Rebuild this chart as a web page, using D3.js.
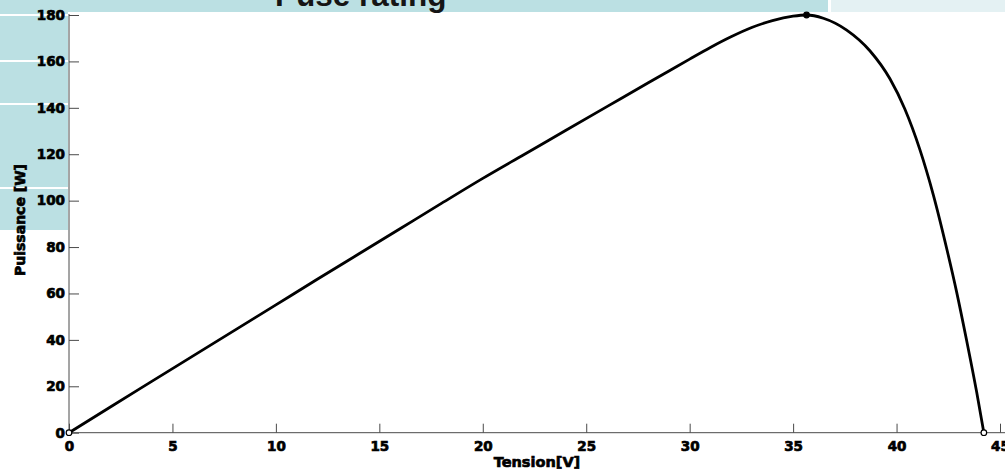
<!DOCTYPE html>
<html>
<head>
<meta charset="utf-8">
<script src="https://cdn.jsdelivr.net/npm/d3@7"></script>
<style>
  body { margin: 0; background: #fff; }
  svg { display: block; }
  .tick text, .label { font-family: "DejaVu Sans", sans-serif; font-weight: bold; fill: #000; stroke: #000; stroke-width: 0.7px; }
  .tick text { font-size: 13.5px; }
  .axis path, .axis line { stroke: #4a4a4a; }
</style>
</head>
<body>
<script>
// P-V curve of the panel
var voltage = [0, 2, 4, 6, 8, 10, 12, 14, 16, 18, 20, 22, 24, 26, 28, 29, 30, 31, 32, 33, 34, 35,
               35.65, 36.46, 37.59, 38.72, 39.68, 40.4, 41.12, 41.78, 42.42, 42.9, 43.39, 43.87, 44.22];
var power   = [0, 11.1, 22.1, 33.1, 44.1, 55.1, 66.1, 77.0, 87.9, 98.8, 109.6, 119.9, 130.2, 140.5, 150.8, 155.9, 161.0, 166.0, 170.6, 174.6, 177.6, 179.5,
               180, 178.6, 173.5, 164.5, 152.5, 139.5, 122.2, 102.4, 79.5, 60.8, 39.6, 17.6, 0];

// marked points: origin, maximum power point, open circuit
var markerV = [0, 35.65, 44.22];
var markerP = [0, 180, 0];
var markerFilled = [false, true, false];

var xTicks = [0, 5, 10, 15, 20, 25, 30, 35, 40, 45];
var yTicks = [0, 20, 40, 60, 80, 100, 120, 140, 160, 180];

var width = 1005,
    height = 474;

var svg = d3.select("body").append("svg")
    .attr("width", width)
    .attr("height", height);

// slide background decoration
svg.append("rect").attr("x", 0).attr("y", 0).attr("width", 828).attr("height", 12).attr("fill", "#bbe0e3");
svg.append("rect").attr("x", 831).attr("y", 0).attr("width", 174).attr("height", 12).attr("fill", "#e4f1f3");
svg.append("rect").attr("x", 0).attr("y", 0).attr("width", 68).attr("height", 230).attr("fill", "#bbe0e3");
[15, 61, 104, 188].forEach(function(y) {
  svg.append("rect").attr("x", 0).attr("y", y - 1).attr("width", 68).attr("height", 2).attr("fill", "#fff");
});

svg.append("text")
    .attr("x", 275)
    .attr("y", 5.5)
    .attr("font-family", "Liberation Sans, Arial, sans-serif")
    .attr("font-weight", "bold")
    .attr("font-size", "31.5px")
    .attr("fill", "#151515")
    .text("Puse rating");

var x = d3.scaleLinear().domain([0, 45]).range([69, 1000]);
var y = d3.scaleLinear().domain([0, 180]).range([432.7, 15]);

var xAxis = svg.append("g")
    .attr("class", "axis")
    .attr("transform", "translate(0," + y(0) + ")")
    .call(d3.axisBottom(x).tickValues(xTicks).tickSize(-9).tickSizeOuter(0).tickPadding(9));
xAxis.select(".domain").attr("d", "M" + x(0) + ",0H" + width);

var yAxis = svg.append("g")
    .attr("class", "axis")
    .attr("transform", "translate(" + x(0) + ",0)")
    .call(d3.axisLeft(y).tickValues(yTicks).tickSize(-10).tickSizeOuter(0).tickPadding(4));
yAxis.select(".domain").attr("d", "M0,14V" + y(0));

// axis titles
svg.append("text")
    .attr("class", "label")
    .attr("x", 537)
    .attr("y", 467)
    .attr("text-anchor", "middle")
    .attr("font-size", "14.5px")
    .text("Tension[V]");

svg.append("text")
    .attr("class", "label")
    .attr("transform", "translate(24.5,220) rotate(-90)")
    .attr("text-anchor", "middle")
    .attr("font-size", "14px")
    .text("Puissance [W]");

// the curve
var line = d3.line()
    .x(function(d, i) { return x(voltage[i]); })
    .y(function(d, i) { return y(power[i]); })
    .curve(d3.curveMonotoneX);

svg.append("path")
    .datum(voltage)
    .attr("d", line)
    .attr("fill", "none")
    .attr("stroke", "#000")
    .attr("stroke-width", 2.8)
    .attr("stroke-linejoin", "round");

svg.selectAll(".marker")
    .data(markerV)
  .enter().append("circle")
    .attr("class", "marker")
    .attr("cx", function(d) { return x(d); })
    .attr("cy", function(d, i) { return y(markerP[i]); })
    .attr("r", 2.8)
    .attr("fill", function(d, i) { return markerFilled[i] ? "#000" : "#fff"; })
    .attr("stroke", "#000")
    .attr("stroke-width", 1.2);
</script>
</body>
</html>
